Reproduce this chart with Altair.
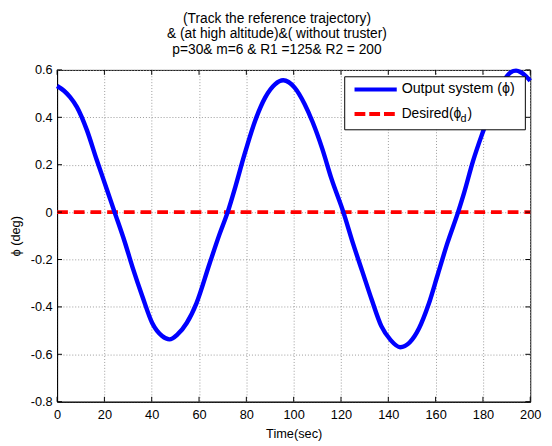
import altair as alt
import pandas as pd

# ---- data ----
t_values = [0, 2.9, 5.5, 8.4, 12.6, 16.7, 20.9, 24.3, 28.5, 31.9, 36.1, 40.2, 44.4,
            47.5, 51.0, 54.8, 58.9, 64.4, 68.6, 72.1, 75.5, 79.0, 83.8, 88.0, 92.1,
            95.6, 100.4, 104.6, 108, 112, 116, 121, 125, 129, 133, 137, 141, 145,
            149, 153, 157, 161, 165, 169.5, 172, 175.8, 180.5, 184, 188, 191.7,
            194, 196, 198, 200]
phi_values = [0.532, 0.512, 0.485, 0.443, 0.346, 0.222, 0.10, 0.0, -0.123, -0.233,
              -0.357, -0.468, -0.523, -0.537, -0.515, -0.468, -0.385, -0.219, -0.095,
              0.0, 0.112, 0.236, 0.388, 0.484, 0.539, 0.556, 0.525, 0.456, 0.38, 0.27,
              0.14, 0.0, -0.13, -0.25, -0.37, -0.48, -0.54, -0.57, -0.55, -0.49, -0.39,
              -0.26, -0.13, 0.0, 0.08, 0.215, 0.353, 0.45, 0.54, 0.59, 0.597, 0.59,
              0.575, 0.554]
desired_t = [0, 200]
desired_phi = [0, 0]
x_ticks = [0, 20, 40, 60, 80, 100, 120, 140, 160, 180, 200]
y_ticks = [-0.8, -0.6, -0.4, -0.2, 0, 0.2, 0.4, 0.6]
title_lines = ["(Track the reference trajectory)",
               "& (at high altitude)&( without truster)",
               " p=30& m=6 & R1 =125& R2 = 200"]
legend_labels = ["Output system (\u03d5)", "Desired(\u03d5", "d", ")"]

W, H = 482, 338
FONT = "Liberation Sans"

out_df = pd.DataFrame({"t": t_values, "phi": phi_values})
des_df = pd.DataFrame({"t": desired_t, "phi": desired_phi})
xt_df = pd.DataFrame({"v": x_ticks})
yt_df = pd.DataFrame({"v": y_ticks})

xscale = alt.Scale(domain=[0, 200], nice=False, zero=False)
yscale = alt.Scale(domain=[-0.8, 0.6], nice=False, zero=False)

ylab = "datum.value == 0 ? '0' : (datum.value < 0 ? '-' + format(-datum.value, '.1f') : format(datum.value, '.1f'))"

x_enc = alt.X("t:Q", scale=xscale,
              axis=alt.Axis(values=x_ticks, title="Time(sec)", tickSize=0,
                            labelPadding=7, titlePadding=6, grid=True,
                            labelFlush=False))
y_enc = alt.Y("phi:Q", scale=yscale,
              axis=alt.Axis(values=y_ticks, title="\u03d5 (deg)", tickSize=0,
                            labelPadding=5, titlePadding=8, grid=True,
                            labelExpr=ylab))

desired = alt.Chart(des_df).mark_line(color="#ff0000", strokeWidth=4,
                                      strokeDash=[11, 6]).encode(x=x_enc, y=y_enc)
output = alt.Chart(out_df).mark_line(color="#0000ff", strokeWidth=4.5,
                                     interpolate="monotone").encode(
    x=alt.X("t:Q", scale=xscale), y=alt.Y("phi:Q", scale=yscale))

# inward ticks (MATLAB style box ticks)
tick_bottom = alt.Chart(xt_df).mark_rule(color="black").encode(
    x=alt.X("v:Q", scale=xscale), y=alt.value(H), y2=alt.value(H - 5))
tick_top = alt.Chart(xt_df).mark_rule(color="black").encode(
    x=alt.X("v:Q", scale=xscale), y=alt.value(0), y2=alt.value(5))
tick_left = alt.Chart(yt_df).mark_rule(color="black").encode(
    y=alt.Y("v:Q", scale=yscale), x=alt.value(0), x2=alt.value(5))
tick_right = alt.Chart(yt_df).mark_rule(color="black").encode(
    y=alt.Y("v:Q", scale=yscale), x=alt.value(W), x2=alt.value(W - 5))

# legend box
one = pd.DataFrame({"k": [0]})
leg_box = alt.Chart(one).mark_rect(fill="white", stroke="black", strokeWidth=1).encode(
    x=alt.value(293), x2=alt.value(477), y=alt.value(7), y2=alt.value(61))
leg_blue = alt.Chart(one).mark_rule(color="#0000ff", strokeWidth=4).encode(
    x=alt.value(303), x2=alt.value(346), y=alt.value(20))
leg_red = alt.Chart(one).mark_rule(color="#ff0000", strokeWidth=4, strokeDash=[11, 4]).encode(
    x=alt.value(303), x2=alt.value(346), y=alt.value(45))
leg_t1 = alt.Chart(one).mark_text(text=legend_labels[0], font=FONT, fontSize=14.5,
                                  align="left", baseline="middle", color="black").encode(
    x=alt.value(351), y=alt.value(20))
leg_t2 = alt.Chart(one).mark_text(text=legend_labels[1], font=FONT, fontSize=14,
                                  align="left", baseline="middle", color="black").encode(
    x=alt.value(351), y=alt.value(45))
leg_t3 = alt.Chart(one).mark_text(text=legend_labels[2], font=FONT, fontSize=11,
                                  align="left", baseline="middle", color="black").encode(
    x=alt.value(411), y=alt.value(50))
leg_t4 = alt.Chart(one).mark_text(text=legend_labels[3], font=FONT, fontSize=14,
                                  align="left", baseline="middle", color="black").encode(
    x=alt.value(418), y=alt.value(45))

chart = alt.layer(
    desired, output, tick_bottom, tick_top, tick_left, tick_right,
    leg_box, leg_blue, leg_red, leg_t1, leg_t2, leg_t3, leg_t4
).properties(
    width=W, height=H,
    title=alt.TitleParams(text=title_lines, fontSize=14, font=FONT, fontWeight="normal",
                          color="black", lineHeight=16, anchor="middle", frame="group",
                          offset=5, dx=-17),
    autosize=alt.AutoSizeParams(type="none"),
    padding={"left": 50, "top": 59, "right": 14, "bottom": 38},
).configure_view(
    stroke="black", strokeWidth=1
).configure_axis(
    labelFont=FONT, titleFont=FONT, labelFontSize=13, titleFontSize=13,
    labelColor="black", titleColor="black", titleFontWeight="normal",
    domainColor="black", domainWidth=1,
    gridColor="#9a9a9a", gridDash=[1, 2], gridWidth=1, gridOpacity=1
)

chart.save("out.html", embed_options={"renderer": "svg", "actions": False})
